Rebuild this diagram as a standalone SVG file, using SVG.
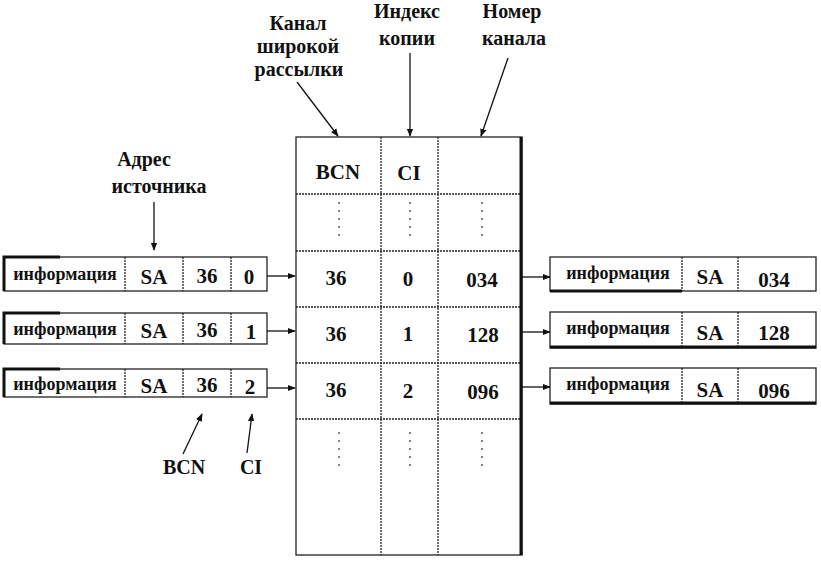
<svg xmlns="http://www.w3.org/2000/svg" width="821" height="563" viewBox="0 0 821 563" font-family="Liberation Serif, Times New Roman, serif">
<defs>
<marker id="ah" viewBox="0 0 10 10" refX="9" refY="5" markerWidth="8" markerHeight="8" orient="auto-start-reverse" markerUnits="userSpaceOnUse">
<path d="M0,1 L10,5 L0,9 Z" fill="#111"/>
</marker>
</defs>
<style>
text{fill:#111}
.lbl{font-size:20px;font-weight:bold;text-anchor:middle}
.cell{font-size:21px;font-weight:bold;text-anchor:middle}
.info{font-size:18px;font-weight:bold;text-anchor:middle}
.box{fill:#fff;stroke:#222;stroke-width:1.3}
.div{stroke:#222;stroke-width:1.3;stroke-dasharray:2 1}
.thick{stroke:#111;stroke-width:3;fill:none}
.con{stroke:#111;stroke-width:1.3;fill:none;marker-end:url(#ah)}
.dots{stroke:#333;stroke-width:1.2;stroke-dasharray:2 6;fill:none}
</style>
<rect width="821" height="563" fill="#fff"/>

<g id="labels">
<text class="lbl" x="298" y="30">Канал</text>
<text class="lbl" x="298" y="53">широкой</text>
<text class="lbl" x="299" y="76">рассылки</text>
<text class="lbl" x="407" y="18">Индекс</text>
<text class="lbl" x="407" y="45">копии</text>
<text class="lbl" x="512" y="18">Номер</text>
<text class="lbl" x="514" y="45">канала</text>
<text class="lbl" x="144" y="166" font-weight="normal">Адрес</text>
<text class="lbl" x="159" y="193">источника</text>
<text class="lbl" x="184" y="474">BCN</text>
<text class="lbl" x="251" y="474">CI</text>
</g>

<g id="table">
<rect class="box" x="296" y="137" width="226" height="418"/>
<line class="div" x1="381" y1="137" x2="381" y2="555"/>
<line class="div" x1="438" y1="137" x2="438" y2="555"/>
<line class="div" x1="296" y1="194" x2="522" y2="194"/>
<line class="div" x1="296" y1="251" x2="522" y2="251"/>
<line class="div" x1="296" y1="307" x2="522" y2="307"/>
<line class="div" x1="296" y1="363" x2="522" y2="363"/>
<line class="div" x1="296" y1="419" x2="522" y2="419"/>
<line class="thick" x1="521" y1="137" x2="521" y2="555"/>
<text class="cell" x="338" y="179">BCN</text>
<text class="cell" x="409" y="180">CI</text>
<line class="dots" x1="339" y1="202" x2="339" y2="242"/>
<line class="dots" x1="410" y1="202" x2="410" y2="242"/>
<line class="dots" x1="482" y1="202" x2="482" y2="242"/>
<text class="cell" x="336" y="285">36</text>
<text class="cell" x="408" y="286">0</text>
<text class="cell" x="482" y="287">034</text>
<text class="cell" x="336" y="341">36</text>
<text class="cell" x="408" y="341">1</text>
<text class="cell" x="483" y="342">128</text>
<text class="cell" x="336" y="397">36</text>
<text class="cell" x="408" y="398">2</text>
<text class="cell" x="483" y="399">096</text>
<line class="dots" x1="339" y1="432" x2="339" y2="472"/>
<line class="dots" x1="410" y1="432" x2="410" y2="472"/>
<line class="dots" x1="482" y1="432" x2="482" y2="472"/>
</g>

<g id="in1">
<rect class="box" x="4" y="257" width="263" height="34"/>
<line class="div" x1="125" y1="257" x2="125" y2="291"/>
<line class="div" x1="183" y1="257" x2="183" y2="291"/>
<line class="div" x1="231" y1="257" x2="231" y2="291"/>
<polyline class="thick" points="4,291 4,257 60,257"/>
<text class="info" x="65" y="280">информация</text>
<text class="cell" x="154" y="284">SA</text>
<text class="cell" x="207" y="283">36</text>
<text class="cell" x="249" y="284">0</text>
</g>
<g id="in2">
<rect class="box" x="4" y="313" width="263" height="31"/>
<line class="div" x1="125" y1="313" x2="125" y2="344"/>
<line class="div" x1="183" y1="313" x2="183" y2="344"/>
<line class="div" x1="231" y1="313" x2="231" y2="344"/>
<polyline class="thick" points="4,344 4,313 60,313"/>
<text class="info" x="65" y="335">информация</text>
<text class="cell" x="154" y="338">SA</text>
<text class="cell" x="207" y="337">36</text>
<text class="cell" x="251" y="339">1</text>
</g>
<g id="in3">
<rect class="box" x="4" y="369" width="263" height="28"/>
<line class="div" x1="125" y1="369" x2="125" y2="397"/>
<line class="div" x1="183" y1="369" x2="183" y2="397"/>
<line class="div" x1="231" y1="369" x2="231" y2="397"/>
<polyline class="thick" points="4,397 4,369 60,369"/>
<text class="info" x="65" y="390">информация</text>
<text class="cell" x="154" y="393">SA</text>
<text class="cell" x="207" y="392">36</text>
<text class="cell" x="250" y="394">2</text>
</g>

<g id="out1">
<rect class="box" x="550" y="257" width="266" height="34"/>
<line class="div" x1="682" y1="257" x2="682" y2="291"/>
<line class="div" x1="738" y1="257" x2="738" y2="291"/>
<line class="thick" x1="550" y1="291" x2="682" y2="291"/>
<text class="info" x="618" y="279">информация</text>
<text class="cell" x="710" y="284">SA</text>
<text class="cell" x="774" y="287">034</text>
</g>
<g id="out2">
<rect class="box" x="550" y="312" width="266" height="36"/>
<line class="div" x1="682" y1="312" x2="682" y2="348"/>
<line class="div" x1="738" y1="312" x2="738" y2="348"/>
<line class="thick" x1="550" y1="347" x2="816" y2="347"/>
<text class="info" x="618" y="334">информация</text>
<text class="cell" x="710" y="340">SA</text>
<text class="cell" x="774" y="340">128</text>
</g>
<g id="out3">
<rect class="box" x="550" y="368" width="266" height="36"/>
<line class="div" x1="682" y1="368" x2="682" y2="404"/>
<line class="div" x1="738" y1="368" x2="738" y2="404"/>
<line class="thick" x1="550" y1="403" x2="816" y2="403"/>
<text class="info" x="618" y="390">информация</text>
<text class="cell" x="710" y="397">SA</text>
<text class="cell" x="774" y="398">096</text>
</g>

<g id="connectors">
<line class="con" x1="297" y1="82" x2="338" y2="136"/>
<line class="con" x1="410" y1="53" x2="410" y2="136"/>
<line class="con" x1="508" y1="58" x2="481" y2="136"/>
<line class="con" x1="154" y1="202" x2="154" y2="250"/>
<line class="con" x1="183" y1="454" x2="202" y2="414"/>
<line class="con" x1="247" y1="453" x2="252" y2="414"/>
<line class="con" x1="267" y1="276" x2="295" y2="276"/>
<line class="con" x1="267" y1="331" x2="295" y2="331"/>
<line class="con" x1="267" y1="388" x2="295" y2="388"/>
<line class="con" x1="522" y1="277" x2="550" y2="277"/>
<line class="con" x1="522" y1="332" x2="550" y2="332"/>
<line class="con" x1="522" y1="387" x2="550" y2="387"/>
</g>
</svg>
